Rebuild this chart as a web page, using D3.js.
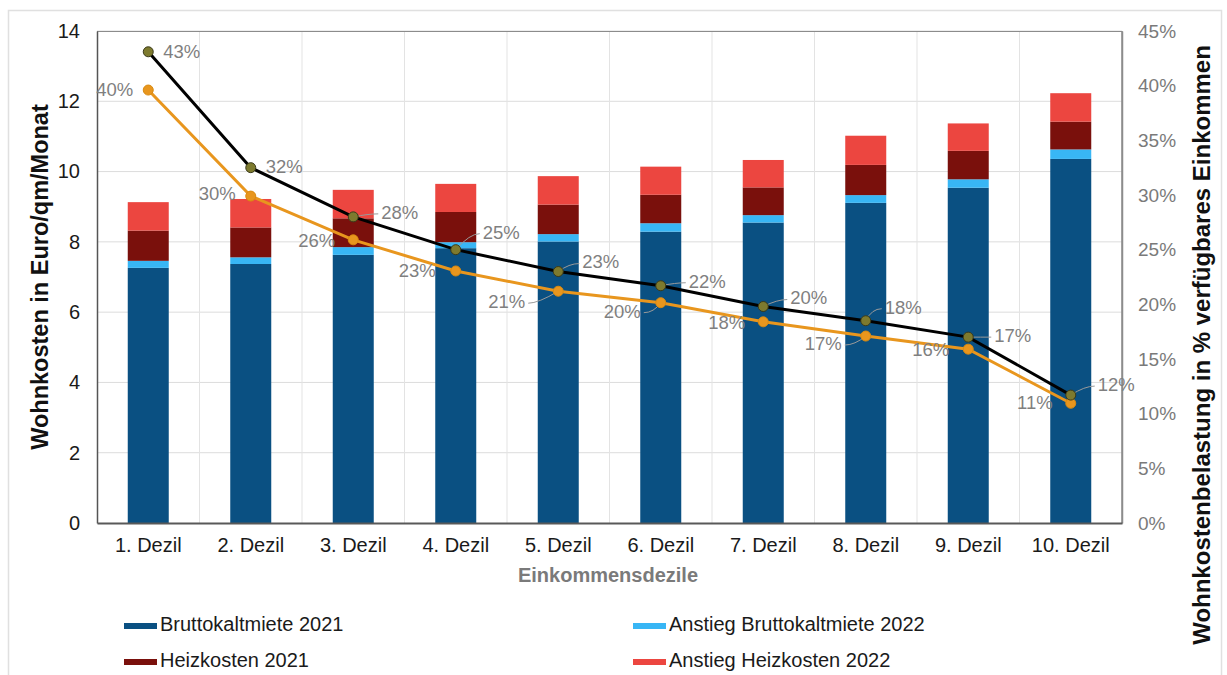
<!DOCTYPE html>
<html>
<head>
<meta charset="utf-8">
<script src="https://cdn.jsdelivr.net/npm/d3@7"></script>
<style>
  html, body { margin: 0; padding: 0; background: #fff; }
  svg { display: block; font-family: "Liberation Sans", Arial, sans-serif; }
</style>
</head>
<body>
<svg id="chart" width="1227" height="675"></svg>
<script>
// ---- data ----
const categories = ["1. Dezil","2. Dezil","3. Dezil","4. Dezil","5. Dezil","6. Dezil","7. Dezil","8. Dezil","9. Dezil","10. Dezil"];
const bruttokaltmiete2021 = [7.26, 7.37, 7.63, 7.82, 8.01, 8.29, 8.55, 9.11, 9.54, 10.36];
const anstiegBrutto2022   = [0.20, 0.19, 0.22, 0.17, 0.21, 0.24, 0.21, 0.22, 0.24, 0.27];
const heizkosten2021      = [0.86, 0.85, 0.82, 0.86, 0.84, 0.81, 0.79, 0.86, 0.81, 0.79];
const anstiegHeiz2022     = [0.81, 0.81, 0.81, 0.80, 0.81, 0.80, 0.78, 0.83, 0.78, 0.81];
const belastung2022 = [43.1, 32.5, 28.0, 25.0, 23.0, 21.7, 19.8, 18.5, 17.0, 11.7]; // black line
const belastung2021 = [39.6, 29.9, 25.9, 23.05, 21.2, 20.15, 18.4, 17.1, 15.9, 10.95]; // orange line
const labels2022 = ["43%","32%","28%","25%","23%","22%","20%","18%","17%","12%"];
const labels2021 = ["40%","30%","26%","23%","21%","20%","18%","17%","16%","11%"];
const leftTicks = [0, 2, 4, 6, 8, 10, 12, 14];
const rightTicks = [0, 5, 10, 15, 20, 25, 30, 35, 40, 45];
const seriesNames = ["Bruttokaltmiete 2021", "Anstieg Bruttokaltmiete 2022", "Heizkosten 2021", "Anstieg Heizkosten 2022"];

// ---- layout / style ----
const colors = ["#0a5082", "#38b6f5", "#7a100c", "#ec4640"];
const lineBlack = "#000000", markerBlack = "#7d7a2e";
const lineOrange = "#e8961e";
const labelGray = "#7f7f7f";
// label pixel offsets (layout only)
const offBlack = [[15,1],[15,0],[28,-3],[27,-16],[24,-8],[28,-3],[27,-7],[19,-12],[26,0],[27,-9]];
const offOrange = [[-15,1],[-15,-1],[-18,2],[-20,1],[-33,12],[-20,10],[-18,2],[-24,9],[-19,2],[-18,1]];

const svg = d3.select("#chart");
const m = {left: 97, right: 1122, top: 31, bottom: 523};

// outer frame
svg.append("rect").attr("x", 8.5).attr("y", 10.5).attr("width", 1213).attr("height", 700)
  .attr("fill", "none").attr("stroke", "#e0e0e0").attr("stroke-width", 1.5);

const x = d3.scaleBand().domain(categories).range([m.left, m.right]).paddingInner(0.6).paddingOuter(0.3);
const y = d3.scaleLinear().domain([0, 14]).range([m.bottom, m.top]);
const y2 = d3.scaleLinear().domain([0, 45]).range([m.bottom, m.top]);

// grid
const g = svg.append("g");
g.selectAll("line.h").data(leftTicks.slice(1)).join("line")
  .attr("x1", m.left).attr("x2", m.right)
  .attr("y1", d => y(d)).attr("y2", d => y(d))
  .attr("stroke", "#dcdcdc").attr("stroke-width", 1);
const step = x.step();
g.selectAll("line.v").data(d3.range(1, categories.length)).join("line")
  .attr("x1", d => m.left + d * step).attr("x2", d => m.left + d * step)
  .attr("y1", m.top).attr("y2", m.bottom)
  .attr("stroke", "#e3e3e3").attr("stroke-width", 1);

// stacked bars
const rows = categories.map((c, i) => ({cat: c, s0: bruttokaltmiete2021[i], s1: anstiegBrutto2022[i], s2: heizkosten2021[i], s3: anstiegHeiz2022[i]}));
const stack = d3.stack().keys(["s0", "s1", "s2", "s3"])(rows);
svg.append("g").selectAll("g").data(stack).join("g")
  .attr("fill", (d, i) => colors[i])
  .selectAll("rect").data(d => d).join("rect")
  .attr("x", d => x(d.data.cat))
  .attr("width", x.bandwidth())
  .attr("y", d => y(d[1]))
  .attr("height", d => y(d[0]) - y(d[1]));

// frame lines
svg.append("line").attr("x1", m.left).attr("x2", m.right).attr("y1", m.top + 0.5).attr("y2", m.top + 0.5).attr("stroke", "#8c8c8c").attr("stroke-width", 1.2);
svg.append("line").attr("x1", m.right).attr("x2", m.right).attr("y1", m.top).attr("y2", m.bottom).attr("stroke", "#8c8c8c").attr("stroke-width", 1.5);

// axes
const axL = svg.append("g").attr("transform", `translate(${m.left},0)`)
  .call(d3.axisLeft(y).tickValues(leftTicks).tickSize(0).tickPadding(17));
axL.select(".domain").attr("stroke", "#555").attr("stroke-width", 1.5);
axL.selectAll("text").attr("font-size", 20).attr("fill", "#1a1a1a").attr("font-family", "Liberation Sans, Arial, sans-serif");

const axR = svg.append("g").attr("transform", `translate(${m.right},0)`)
  .call(d3.axisRight(y2).tickValues(rightTicks).tickFormat(d => d + "%").tickSize(0).tickPadding(16));
axR.select(".domain").attr("stroke", "#8c8c8c").attr("stroke-width", 1.5);
axR.selectAll("text").attr("font-size", 19).attr("fill", "#7a7a7a").attr("font-family", "Liberation Sans, Arial, sans-serif");

const axB = svg.append("g").attr("transform", `translate(0,${m.bottom})`)
  .call(d3.axisBottom(x).tickSize(0).tickPadding(15));
axB.select(".domain").attr("stroke", "#595959").attr("stroke-width", 2);
axB.selectAll("text").attr("font-size", 20).attr("fill", "#1a1a1a").attr("font-family", "Liberation Sans, Arial, sans-serif");

// axis titles
svg.append("text").attr("transform", `translate(42,277) rotate(-90)`)
  .attr("text-anchor", "middle").attr("dominant-baseline", "middle").attr("font-size", 23.5).attr("font-weight", "bold").attr("fill", "#111")
  .text("Wohnkosten in Euro/qm/Monat");
svg.append("text").attr("transform", `translate(1204,345) rotate(-90)`)
  .attr("text-anchor", "middle").attr("dominant-baseline", "middle").attr("font-size", 24).attr("font-weight", "bold").attr("fill", "#111")
  .text("Wohnkostenbelastung in % verfügbares Einkommen");
svg.append("text").attr("x", 608).attr("y", 582)
  .attr("text-anchor", "middle").attr("font-size", 20).attr("font-weight", "bold").attr("fill", "#7a7a7a")
  .text("Einkommensdezile");

// lines
const cx = c => x(c) + x.bandwidth() / 2;
const lineGen = d3.line().x(d => cx(d.c)).y(d => y2(d.v));
const ptsB = categories.map((c, i) => ({c, v: belastung2022[i], l: labels2022[i], o: offBlack[i]}));
const ptsO = categories.map((c, i) => ({c, v: belastung2021[i], l: labels2021[i], o: offOrange[i]}));

function leaders(pts, anchorSide) {
  svg.append("g").selectAll("path").data(pts.filter(d => Math.hypot(d.o[0], d.o[1]) > 22)).join("path")
    .attr("d", d => {
      const px = cx(d.c), py = y2(d.v);
      const ex = px + d.o[0] + (anchorSide === "start" ? -3 : 3), ey = py + d.o[1];
      const mx = ex + (anchorSide === "start" ? -10 : 10);
      return `M${px},${py} Q${mx},${ey} ${ex},${ey}`;
    })
    .attr("fill", "none").attr("stroke", "#9a9a9a").attr("stroke-width", 1);
}
leaders(ptsB, "start");
leaders(ptsO, "end");

svg.append("path").datum(ptsO).attr("d", lineGen).attr("fill", "none").attr("stroke", lineOrange).attr("stroke-width", 3);
svg.append("path").datum(ptsB).attr("d", lineGen).attr("fill", "none").attr("stroke", lineBlack).attr("stroke-width", 3);

svg.append("g").selectAll("circle").data(ptsO).join("circle")
  .attr("cx", d => cx(d.c)).attr("cy", d => y2(d.v)).attr("r", 5)
  .attr("fill", lineOrange).attr("stroke", "#d98a10").attr("stroke-width", 1);
svg.append("g").selectAll("circle").data(ptsB).join("circle")
  .attr("cx", d => cx(d.c)).attr("cy", d => y2(d.v)).attr("r", 5)
  .attr("fill", markerBlack).attr("stroke", "#3a3a1a").attr("stroke-width", 1);

// data labels
svg.append("g").selectAll("text").data(ptsB).join("text")
  .attr("x", d => cx(d.c) + d.o[0]).attr("y", d => y2(d.v) + d.o[1])
  .attr("dominant-baseline", "middle").attr("text-anchor", "start")
  .attr("font-size", 18.5).attr("fill", labelGray).text(d => d.l);
svg.append("g").selectAll("text").data(ptsO).join("text")
  .attr("x", d => cx(d.c) + d.o[0]).attr("y", d => y2(d.v) + d.o[1])
  .attr("dominant-baseline", "middle").attr("text-anchor", "end")
  .attr("font-size", 18.5).attr("fill", labelGray).text(d => d.l);

// legend
const legendPos = [[124, 626], [633, 626], [124, 662], [633, 662]];
const lg = svg.append("g").selectAll("g").data(seriesNames).join("g")
  .attr("transform", (d, i) => `translate(${legendPos[i][0]},${legendPos[i][1]})`);
lg.append("rect").attr("x", 0).attr("y", -3).attr("width", 33).attr("height", 6).attr("fill", (d, i) => colors[i]);
lg.append("text").attr("x", 36).attr("y", 0).attr("dominant-baseline", "middle")
  .attr("font-size", 20).attr("fill", "#1a1a1a").text(d => d);
</script>
</body>
</html>
